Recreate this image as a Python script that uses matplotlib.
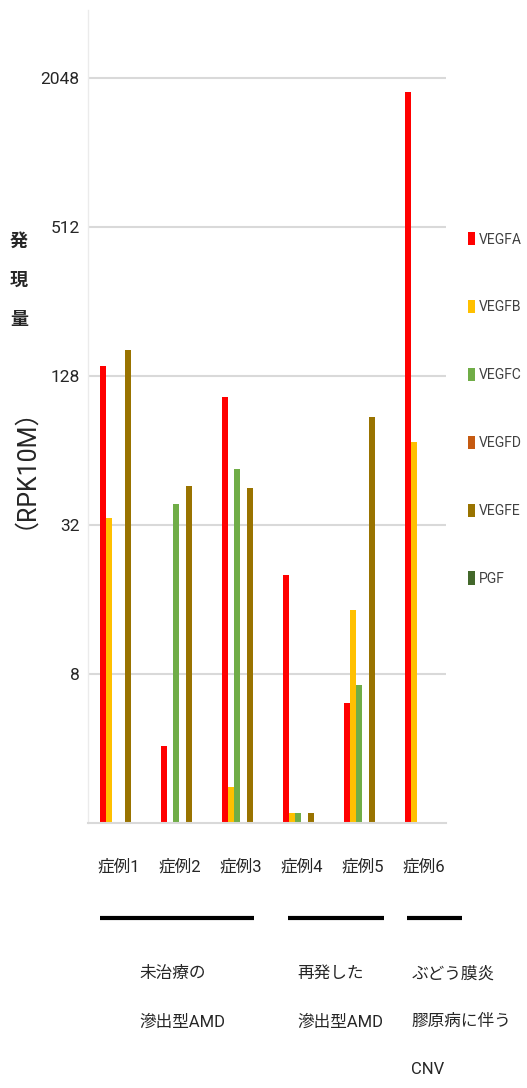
import numpy as np
import matplotlib.pyplot as plt
import matplotlib.transforms as mtransforms
from matplotlib.ticker import NullLocator
from matplotlib.patches import Patch

plt.rcParams['font.family'] = ['Roboto', 'Noto Sans CJK JP', 'DejaVu Sans']

cases = ['症例1', '症例2', '症例3', '症例4', '症例5', '症例6']
genes = ['VEGFA', 'VEGFB', 'VEGFC', 'VEGFD', 'VEGFE', 'PGF']
colors = ['#ff0000', '#ffc000', '#70ad47', '#c55a11', '#997300', '#43682b']

# expression (RPK10M), 0 = not shown
vegfa = [140, 4.1, 105, 20, 6.1, 1800]
vegfb = [34, 0, 2.8, 2.2, 14.5, 69]
vegfc = [0, 39, 54, 2.2, 7.2, 0]
vegfd = [0, 0, 0, 0, 0, 0]
vegfe = [163, 46, 45, 2.2, 87, 0]
pgf = [0, 0, 0, 0, 0, 0]
series = [vegfa, vegfb, vegfc, vegfd, vegfe, pgf]

yticks = [8, 32, 128, 512, 2048]

groups = ['未治療の\n滲出型AMD', '再発した\n滲出型AMD', 'ぶどう膜炎\n膠原病に伴う\nCNV']
group_spans = [(-0.30, 2.22), (2.78, 4.35), (4.73, 5.63)]
group_text_x = [0.35, 2.94, 4.80]

W, H = 527, 1088
fig = plt.figure(figsize=(W / 100, H / 100), dpi=100)
ax = fig.add_axes([88 / W, 1 - 823 / H, (446 - 88) / W, (823 - 10) / H])

x = np.arange(len(cases))
bw = 0.1
for i, (vals, c, g) in enumerate(zip(series, colors, genes)):
    ax.bar(x + (i - 2.5) * bw, vals, bw, color=c, label=g)

ax.set_yscale('log')
ax.set_ylim(2, 3850)
ax.set_xlim(-0.5, 5.37)
ax.set_yticks(yticks)
ax.set_yticklabels([str(v) for v in yticks])
ax.yaxis.set_minor_locator(NullLocator())
ax.grid(axis='y', color='#d9d9d9', linewidth=1.5)
ax.set_axisbelow(True)
ax.tick_params(axis='y', length=0, pad=6, labelsize=12.5, labelcolor='#262626')
ax.set_xticks(x)
ax.set_xticklabels(cases)
ax.tick_params(axis='x', length=0, pad=26, labelsize=12, labelcolor='#262626')

for s in ['top', 'right']:
    ax.spines[s].set_visible(False)
ax.spines['bottom'].set_color('#d9d9d9')
ax.spines['bottom'].set_linewidth(1.5)
ax.spines['left'].set_color('#ebebeb')
ax.spines['left'].set_linewidth(1)

# legend
handles = [Patch(facecolor=c, label=g) for c, g in zip(colors, genes)]
fig.legend(handles=handles, loc='center left', bbox_to_anchor=(468 / W, 1 - 409 / H),
           frameon=False, fontsize=10, labelspacing=3.85, handlelength=0.5,
           handleheight=1.1, handletextpad=0.3, borderaxespad=0, borderpad=0,
           labelcolor='#404040')

# y label
fig.text(19 / W, 1 - 281 / H, '発\n現\n量', ha='center', va='center', fontsize=13,
         linespacing=2.5, color='#262626', fontweight='bold')
fig.text(12 / W, 1 - 456 / H, '（RPK10M）', ha='center', va='center', fontsize=18,
         rotation=90, color='#262626')

# group brackets and labels
trans = mtransforms.blended_transform_factory(ax.transData, fig.transFigure)
for (x0, x1), tx, label in zip(group_spans, group_text_x, groups):
    ax.plot([x0, x1], [1 - 918 / H] * 2, color='black', linewidth=3,
            transform=trans, clip_on=False, solid_capstyle='butt')
    fig.text(tx, 1 - 966 / H, label, transform=trans, ha='left', va='top',
             fontsize=12, linespacing=3.7, color='#262626')

fig.savefig('out.png', dpi=100)
